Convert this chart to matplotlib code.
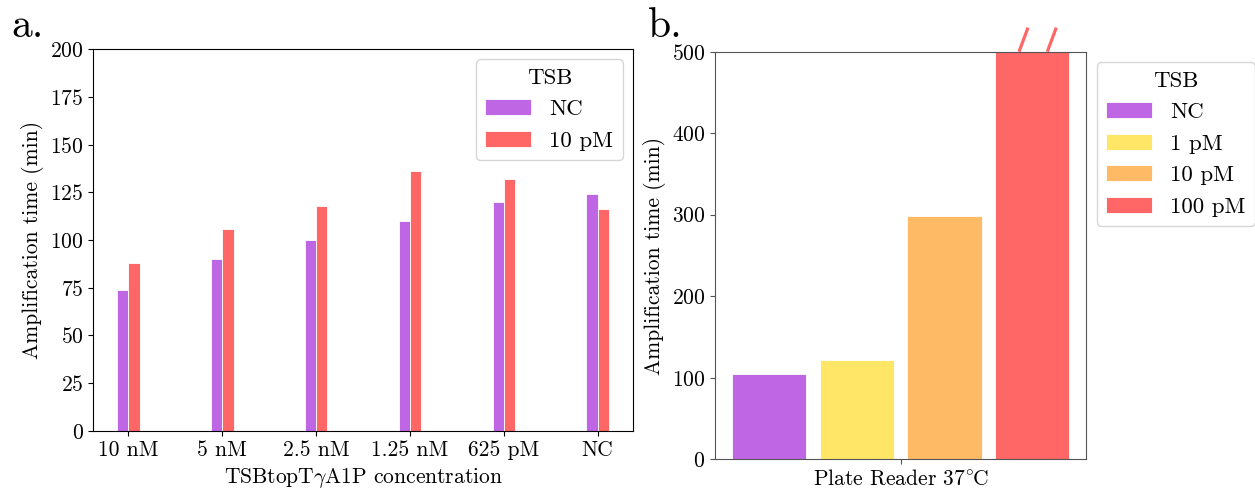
import matplotlib
matplotlib.use("Agg")
import matplotlib.pyplot as plt
import numpy as np

plt.rcParams['font.family'] = 'serif'
plt.rcParams['font.serif'] = ['cmr10']
plt.rcParams['mathtext.fontset'] = 'cm'
plt.rcParams['axes.formatter.use_mathtext'] = True
plt.rcParams['axes.unicode_minus'] = False

# ---- data panel a ----
conc_labels = ['10 nM', '5 nM', '2.5 nM', '1.25 nM', '625 pM', 'NC']
a_series = ['NC', '10 pM']
a_nc = [74, 90, 100, 110, 120, 124]
a_10pm = [88, 106, 118, 136, 132, 116]

# ---- data panel b ----
b_category = ['Plate Reader 37$^{\\circ}\\hspace{-0.1}$C']
b_series = ['NC', '1 pM', '10 pM', '100 pM']
b_values = [105, 122, 299, 600]  # 100 pM exceeds axis (broken bar)

purple = '#BF66E5'
yellow = '#FFE666'
orange = '#FFBA66'
red = '#FF6666'

fs = 15.5
lfs = 16.5
fig = plt.figure(figsize=(12.55, 4.92), dpi=100)
axa = fig.add_axes([0.0743, 0.1240, 0.4300, 0.7764])
axb = fig.add_axes([0.5697, 0.0665, 0.2959, 0.8285])

# panel a
x = np.arange(len(conc_labels))
w = 0.12
axa.bar(x - w / 2, a_nc, w, color=purple, edgecolor='white', linewidth=0.6, label=a_series[0])
axa.bar(x + w / 2, a_10pm, w, color=red, edgecolor='white', linewidth=0.6, label=a_series[1])
axa.set_xticks(x)
axa.set_xticklabels(conc_labels, fontsize=fs)
axa.set_ylim(0, 200)
axa.set_yticks(np.arange(0, 201, 25))
axa.tick_params(labelsize=fs)
axa.set_xlim(-0.375, 5.375)
axa.set_ylabel('Amplification time (min)', fontsize=fs)
axa.set_xlabel('TSBtopT$\\gamma$A1P concentration', fontsize=fs)
axa.legend(title='TSB', fontsize=lfs, title_fontsize=lfs, loc='upper right',
           borderaxespad=0.45)

# panel b
wb = 0.17
pitch = 0.2
colors_b = [purple, yellow, orange, red]
offsets = (np.arange(len(b_series)) - (len(b_series) - 1) / 2) * pitch
for off, val, c, lab in zip(offsets, b_values, colors_b, b_series):
    axb.bar(off, val, wb, color=c, edgecolor='white', linewidth=0.6, label=lab)
axb.set_ylim(0, 500)
axb.set_xlim(-0.4235, 0.4235)
axb.set_xticks([0])
axb.set_xticklabels(b_category, fontsize=fs)
axb.set_yticks(np.arange(0, 501, 100))
axb.tick_params(labelsize=fs, color='#555555')
for sp in axb.spines.values():
    sp.set_color('#555555')
axb.set_ylabel('Amplification time (min)', fontsize=fs)
axb.legend(title='TSB', fontsize=lfs, title_fontsize=lfs, loc='upper left',
           bbox_to_anchor=(1.0, 1.0), borderaxespad=0.45)

# break marks on the clipped bar
top = axb.get_ylim()[1]
xc = offsets[-1]
for dx in (-0.030, 0.0345):
    axb.plot([xc + dx, xc + dx + 0.0205], [top, top * 1.059], color=red,
             linewidth=2.3, clip_on=False, solid_capstyle='butt')

fig.text(0.009, 0.925, 'a.', fontsize=30)
fig.text(0.516, 0.925, 'b.', fontsize=30)

fig.savefig('out.png', dpi=100)
